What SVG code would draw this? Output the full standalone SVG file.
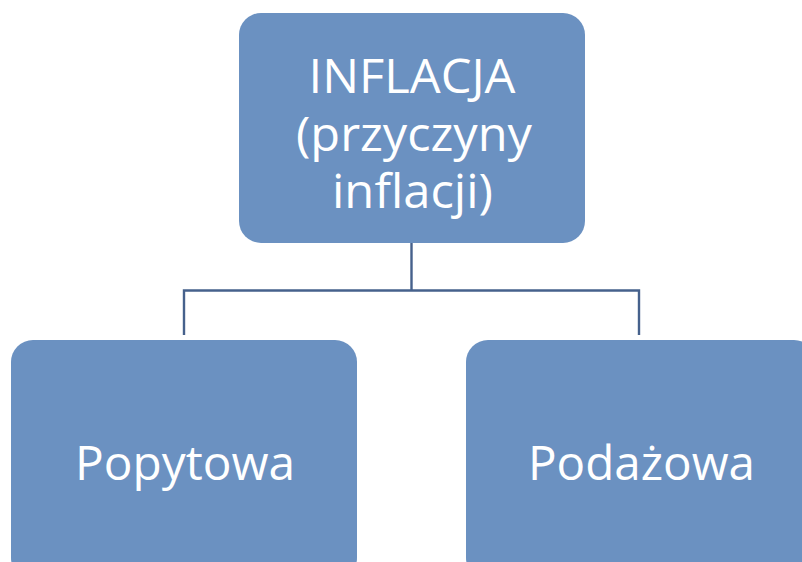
<svg xmlns="http://www.w3.org/2000/svg" width="802" height="562" viewBox="0 0 802 562">
<style>
.box{fill:#6b91c1}
.t{font-family:"Open Sans","Liberation Sans",sans-serif;font-size:47px;fill:#ffffff;text-anchor:middle}
.c{fill:none;stroke:#46618c;stroke-width:2.4}
</style>
<rect width="802" height="562" fill="#ffffff"/>
<g id="connectors">
<path class="c" d="M411.5,243 V290.5 M184,335 V290.5 H639 V335"/>
</g>
<g id="n-inflacja">
<rect class="box" x="239" y="13" width="346" height="230" rx="22"/>
<text class="t" x="412" y="93" textLength="207" lengthAdjust="spacingAndGlyphs">INFLACJA</text>
<text class="t" x="414" y="150.5" textLength="236" lengthAdjust="spacingAndGlyphs">(przyczyny</text>
<text class="t" x="412.5" y="208" textLength="161" lengthAdjust="spacingAndGlyphs">inflacji)</text>
</g>
<g id="n-popytowa">
<rect class="box" x="11" y="340" width="346" height="240" rx="22"/>
<text class="t" x="185" y="480" textLength="220" lengthAdjust="spacingAndGlyphs">Popytowa</text>
</g>
<g id="n-podazowa">
<rect class="box" x="466" y="340" width="350" height="240" rx="22"/>
<text class="t" x="641.5" y="480" textLength="227" lengthAdjust="spacingAndGlyphs">Podażowa</text>
</g>
</svg>
